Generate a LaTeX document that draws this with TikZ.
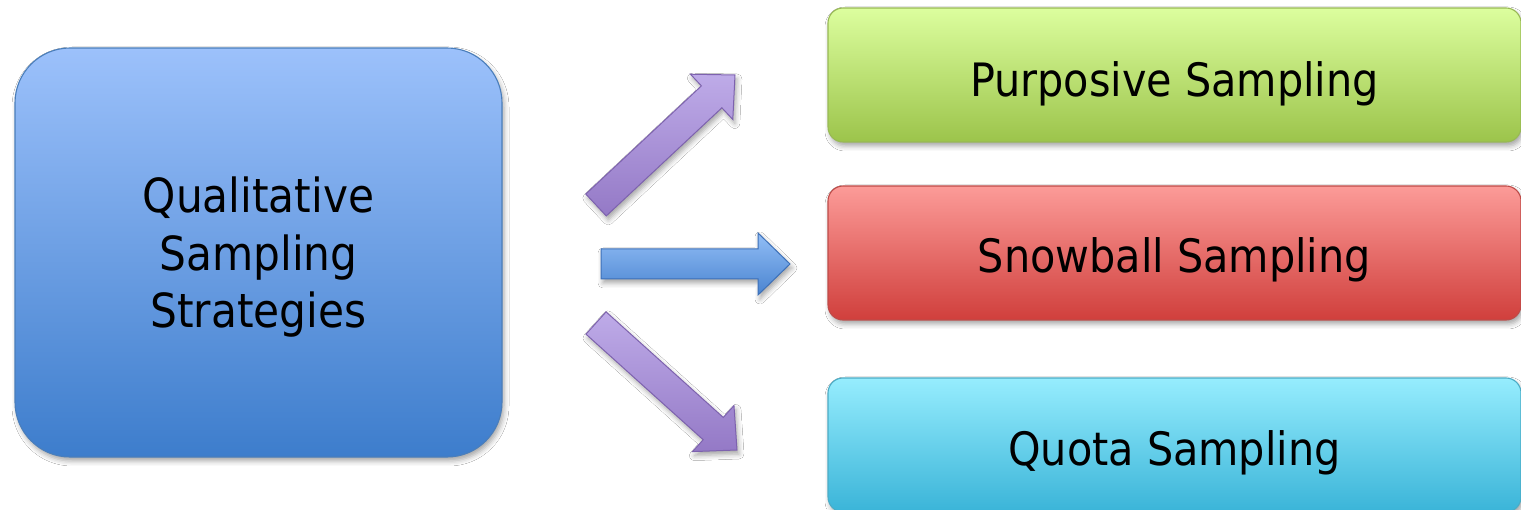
\documentclass[tikz,border=0pt]{standalone}
\usepackage{fontspec}
\setmainfont{DejaVu Sans Condensed}
\usetikzlibrary{calc,shadows.blur}

\definecolor{mainTop}{HTML}{9CC1FB}
\definecolor{mainBot}{HTML}{3D7DCC}
\definecolor{mainEdge}{HTML}{4A7EBB}
\definecolor{grnTop}{HTML}{DCFE9E}
\definecolor{grnBot}{HTML}{9CC44B}
\definecolor{grnEdge}{HTML}{98B954}
\definecolor{redTop}{HTML}{FC9B98}
\definecolor{redBot}{HTML}{D03F3C}
\definecolor{redEdge}{HTML}{BE4B48}
\definecolor{cyaTop}{HTML}{96EDFE}
\definecolor{cyaBot}{HTML}{3AB4D8}
\definecolor{cyaEdge}{HTML}{4BACC6}
\definecolor{lilTop}{HTML}{BEABE8}
\definecolor{lilBot}{HTML}{9479C6}
\definecolor{lilEdge}{HTML}{7D62AE}
\definecolor{bluTop}{HTML}{92BEF6}
\definecolor{bluBot}{HTML}{4A84D0}
\definecolor{bluEdge}{HTML}{3D70B8}

\tikzset{
  softshadow/.style={blur shadow={shadow xshift=2pt, shadow yshift=-4pt,
      shadow blur radius=5pt, shadow opacity=35}},
  mainbox/.style={rounded corners=55pt, line width=1.1pt, draw=mainEdge,
      top color=mainTop, bottom color=mainBot, softshadow,
      minimum width=487pt, minimum height=409pt, inner sep=0pt},
  maintext/.style={inner sep=0pt, align=center, font=\fontsize{47}{57.5}\selectfont},
  panel/.style 2 args={rounded corners=15pt, line width=1.1pt, draw=#1Edge,
      top color=#1Top, bottom color=#1Bot, softshadow,
      minimum width=693pt, minimum height=134pt, inner sep=0pt,
      text height=#2, text depth=0pt, font=\fontsize{46}{55}\selectfont},
  lilac/.style={draw=lilEdge, line width=1pt, top color=lilTop, bottom color=lilBot,
      softshadow},
  azure/.style={draw=bluEdge, line width=1pt, top color=bluTop, bottom color=bluBot,
      softshadow},
}

% block arrow from tail centre #2 to tip #3: shaft 30pt wide, head 62pt wide, 32pt long
\newcommand\blockarrow[3]{%
  \coordinate (#2-n) at ($(#3)!32pt!(#2)$);
  \draw[#1] ($(#2)!15pt!90:(#3)$) -- ($(#2-n)!15pt!90:(#3)$)
    -- ($(#2-n)!31pt!90:(#3)$) -- (#3) -- ($(#2-n)!31pt!-90:(#3)$)
    -- ($(#2-n)!15pt!-90:(#3)$) -- ($(#2)!15pt!-90:(#3)$) -- cycle;}

\begin{document}
\begin{tikzpicture}[x=1pt,y=1pt]
  \useasboundingbox (0,0) rectangle (1521,509);
  \fill[white] (0,0) rectangle (1521,509);
  \clip (0,0) rectangle (1521,509);

  \node[mainbox] (qual) at (258.5,256.5) {};
  \node[maintext] (qualtext) at ($(qual.center)+(0,-5)$) {Qualitative\\Sampling\\Strategies};

  \node[panel={grn}{44pt}] (purp) at (1174.5,434) {Purposive Sampling};
  \node[panel={red}{40pt}] (snow) at (1174.5,256) {Snowball Sampling};
  \node[panel={cya}{41pt}] (quota) at (1174.5,64) {Quota Sampling};

  \coordinate (a1) at (596,304);
  \coordinate (b1) at (735,434);
  \coordinate (a2) at (601,245);
  \coordinate (b2) at (790,245);
  \coordinate (a3) at (596,186);
  \coordinate (b3) at (737,59);

  \blockarrow{lilac}{a1}{b1}
  \blockarrow{azure}{a2}{b2}
  \blockarrow{lilac}{a3}{b3}
\end{tikzpicture}
\end{document}
